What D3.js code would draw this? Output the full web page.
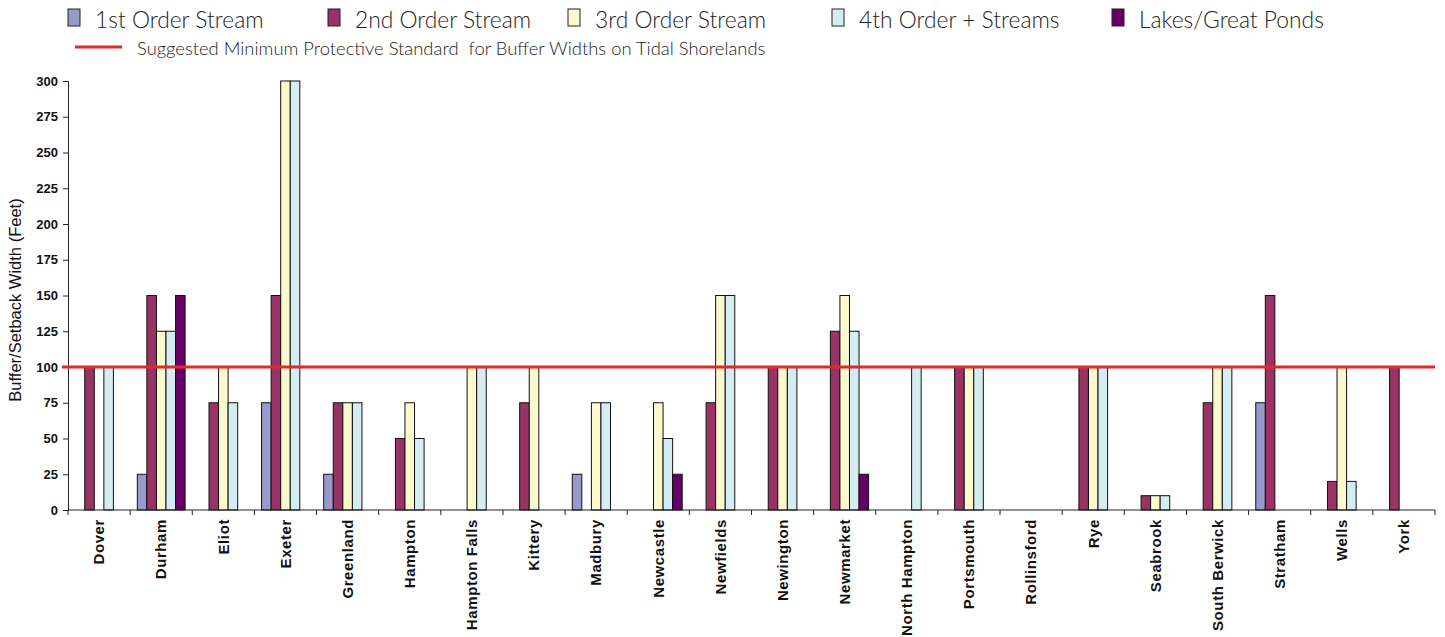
<!DOCTYPE html>
<html><head><meta charset="utf-8">
<script src="https://cdn.jsdelivr.net/npm/d3@7"></script>
<style>body{margin:0;background:#fff;} svg{display:block;}</style>
</head><body><svg id="c" width="1445" height="637"></svg>
<script>
const towns = ["Dover","Durham","Eliot","Exeter","Greenland","Hampton","Hampton Falls","Kittery","Madbury","Newcastle","Newfields","Newington","Newmarket","North Hampton","Portsmouth","Rollinsford","Rye","Seabrook","South Berwick","Stratham","Wells","York"];
const seriesNames = ["1st Order Stream","2nd Order Stream","3rd Order Stream","4th Order + Streams","Lakes/Great Ponds"];
const firstOrder  = [0,25,0,75,25,0,0,0,25,0,0,0,0,0,0,0,0,0,0,75,0,0];
const secondOrder = [100,150,75,150,75,50,0,75,0,0,75,100,125,0,100,0,100,10,75,150,20,100];
const thirdOrder  = [0,125,100,300,75,75,100,100,75,75,150,100,150,0,100,0,100,10,100,0,100,0];
const fourthOrder = [100,125,75,300,75,50,100,0,75,50,150,100,125,100,100,0,100,10,100,0,20,0];
const lakes       = [0,150,0,0,0,0,0,0,0,25,0,0,25,0,0,0,0,0,0,0,0,0];
const standardValue = 100;
const standardLabel = "Suggested Minimum Protective Standard  for Buffer Widths on Tidal Shorelands";
const yTicks = [0,25,50,75,100,125,150,175,200,225,250,275,300];
const colors = ["#9999cc","#993366","#fcf9cf","#d4edf3","#660066"];

const series = [firstOrder, secondOrder, thirdOrder, fourthOrder, lakes];
const svg = d3.select("#c");
const L = 68, R = 1435, T = 81, B = 510;

const x = d3.scaleBand().domain(towns).range([L, R]).paddingInner(0).paddingOuter(0);
const bw = x.bandwidth() / 6.5;
const xs = d3.scaleBand().domain(d3.range(5)).range([bw*0.75, bw*5.75]);
const y = d3.scaleLinear().domain([0,300]).range([B, T]);

// bars
series.forEach((vals, si) => {
  svg.append("g").selectAll("rect").data(vals.map((v,i)=>({v, t: towns[i]})).filter(d=>d.v>0))
    .join("rect")
    .attr("x", d => x(d.t) + xs(si))
    .attr("y", d => y(d.v))
    .attr("width", xs.bandwidth())
    .attr("height", d => B - y(d.v))
    .attr("fill", colors[si])
    .attr("stroke", "#111")
    .attr("stroke-width", 1);
});

// y axis
const ya = svg.append("g").attr("transform", `translate(${L},0)`)
  .call(d3.axisLeft(y).tickValues(yTicks).tickSize(5).tickPadding(5));
ya.select(".domain").attr("stroke","#222");
ya.selectAll(".tick line").attr("stroke","#222");
ya.selectAll("text").attr("font-family","Liberation Sans, Arial, sans-serif").attr("font-size",13).attr("font-weight","bold").attr("fill","#111");

// x axis
const xa = svg.append("g").attr("transform", `translate(0,${B})`);
xa.append("line").attr("x1",L).attr("x2",R).attr("stroke","#222");
const bounds = towns.map(t => x(t)).concat([R]);
xa.selectAll(".tk").data(bounds).join("line").attr("x1",d=>d).attr("x2",d=>d).attr("y1",0).attr("y2",5).attr("stroke","#222");
xa.selectAll(".lbl").data(towns).join("text")
  .attr("transform", d => `translate(${x(d)+x.bandwidth()/2},9) rotate(-90)`)
  .attr("text-anchor","end").attr("dy","0.35em")
  .attr("font-family","Liberation Sans, Arial, sans-serif").attr("font-size",15).attr("font-weight","bold")
  .attr("letter-spacing","0.6px").attr("fill","#111")
  .text(d=>d);

// standard line
svg.append("line").attr("x1",62).attr("x2",R).attr("y1",y(standardValue)).attr("y2",y(standardValue))
  .attr("stroke","#e8262a").attr("stroke-width",3);

// y title
svg.append("text").attr("transform",`translate(21,300) rotate(-90)`)
  .attr("text-anchor","middle").attr("font-family","Liberation Sans, Arial, sans-serif").attr("font-size",16.5).attr("fill","#111")
  .text("Buffer/Setback Width (Feet)");

// legend
const legX = [68, 328, 568, 832, 1112];
const lg = svg.append("g");
seriesNames.forEach((n,i) => {
  lg.append("rect").attr("x",legX[i]).attr("y",9).attr("width",12).attr("height",17).attr("fill",colors[i]).attr("stroke","#222");
  lg.append("text").attr("x",legX[i]+27).attr("y",28).attr("font-family","Lato, sans-serif").attr("font-weight",300)
    .attr("font-size",22.8).attr("fill","#222").text(n);
});
lg.append("line").attr("x1",75).attr("x2",122).attr("y1",47).attr("y2",47).attr("stroke","#e8262a").attr("stroke-width",3);
lg.append("text").attr("x",137).attr("y",55).attr("font-family","Lato, sans-serif").attr("font-weight",300)
  .attr("font-size",18.4).attr("fill","#222").attr("xml:space","preserve").style("white-space","pre").text(standardLabel);
</script></body></html>
